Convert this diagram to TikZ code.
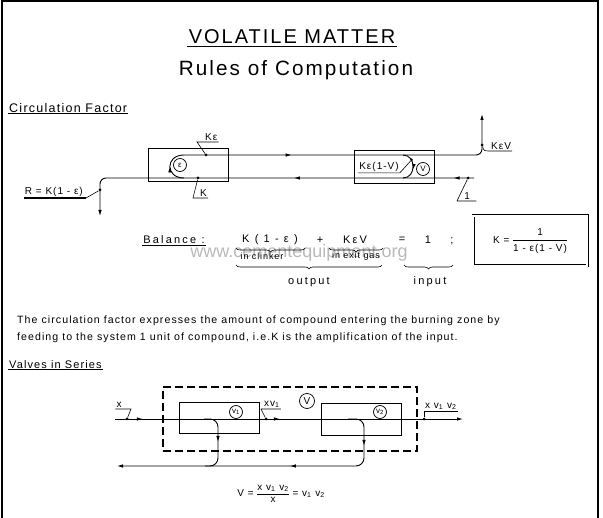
\documentclass[tikz,border=0pt]{standalone}
\usepackage{fontspec}
\setmainfont[LetterSpace=10]{Liberation Sans}
\usetikzlibrary{arrows.meta,decorations.markings,decorations.pathreplacing,positioning}

\tikzset{
  flow/.style={line width=0.9pt},
  tip/.style={-{Latex[length=6pt,width=3.5pt]}},
  midarrow/.style={postaction={decorate,decoration={markings,
      mark=at position #1 with {\arrow{Latex[length=6pt,width=3.5pt]}}}}},
  unit/.style={draw, line width=0.9pt, minimum width=80pt, minimum height=33pt, inner sep=0pt},
  lbl/.style={font=\fontsize{10}{12}\selectfont, inner sep=1pt},
  wide/.style={font=\fontsize{11}{13}\selectfont\addfontfeatures{LetterSpace=20}, inner sep=1pt},
  dot/.style={circle, fill, inner sep=0pt, minimum size=3pt},
  ring/.style={draw, circle, line width=0.7pt, inner sep=0.5pt, minimum size=13pt, font=\fontsize{8}{9}\selectfont},
  leader/.style={line width=0.6pt},
  brc/.style={decorate, decoration={brace, mirror, amplitude=4pt}, line width=0.6pt},
}

\begin{document}
\begin{tikzpicture}[x=1pt, y=-1pt]
\useasboundingbox (0,0) rectangle (603,518);
% frame
\draw[line width=1.5pt] (2,518) -- (2,1) -- (598,1) -- (598,518);

% headings
\node[font=\fontsize{20}{24}\selectfont, inner sep=2pt] (title) at (292,37) {VOLATILE MATTER};
\draw[line width=1pt] (title.south west) -- (title.south east);
\node[font=\fontsize{20.7}{24}\selectfont] (sub) at (296,70) {Rules of Computation};
\node[font=\fontsize{12.5}{14}\selectfont, anchor=south west, inner sep=1pt] (circ) at (8,114) {Circulation Factor};
\draw[line width=1pt] (circ.south west) -- (circ.south east);

% circulation loop
\node[unit] (boxE) at (188,165) {};
\node[unit] (boxV) at (394,167) {};
\node[ring] (epsE) at (180,165) {ε};
\node[ring] (ringV) at (423,169) {V};

\coordinate (uTop) at (184,155);
\coordinate (uBot) at (184,178);
\coordinate (kevBend) at (482,155);
\coordinate (kevTop) at (482,114);
\coordinate (feedIn) at (474,178);
\coordinate (rBend) at (100,178);
\coordinate (rOut) at (100,216);
\coordinate (kvTop) at (403,155);
\coordinate (kvBot) at (403,178);

\draw[flow, midarrow=0.5] (uBot) to[out=180, in=180, looseness=2.1] (uTop);
\draw[flow, rounded corners=6pt, midarrow=0.32, tip] (uTop) -- (kevBend) -- (kevTop);
\draw[flow, rounded corners=6pt, midarrow=0.05, midarrow=0.44, tip] (feedIn) -- (rBend) -- (rOut);
\draw[flow, midarrow=0.6] (kvTop) to[out=0, in=0, looseness=1.5] coordinate[pos=0.3] (kvDot) (kvBot);

% labels of the loop
\node[lbl] (kvLbl) at (379,167) {Kε(1-V)};
\node[dot] (kvDotN) at (kvDot) {};
\draw[leader] (kvLbl.south west) -- (kvLbl.south east) -- (kvDotN);

\node[dot] (keDot) at (206,155) {};
\coordinate (keBend) at (197,142);
\node[lbl, anchor=south west] (keLbl) at (204,142) {Kε};
\draw[leader] (keDot) -- (keBend) -- (keLbl.south east);

\node[dot] (kDot) at (198,178) {};
\coordinate (kBend) at (193,198);
\node[lbl, anchor=south west] (kLbl) at (199,198) {K};
\draw[leader] (kDot) -- (kBend) -- (kLbl.south east);

\node[dot] (kevDot) at (482,145) {};
\node[lbl, anchor=south west] (kevLbl) at (490,151) {KεV};
\draw[leader] (kevDot) .. controls (484,151) .. (kevLbl.south west) -- (kevLbl.south east);

\node[dot] (oneDot) at (468,178) {};
\coordinate (oneBend) at (457,201);
\node[lbl, anchor=south west, minimum width=18pt] (oneLbl) at (458,201) {1};
\draw[leader] (oneDot) -- (oneBend) -- (oneLbl.south east);

\node[dot] (rDot) at (100,190) {};
\coordinate (rBend2) at (86,198);
\node[lbl, anchor=south east] (rLbl) at (84,198) {R = K(1 - ε)};
\draw[leader] (rDot) -- (rBend2);
\draw[line width=1.8pt] (rBend2) -- (rLbl.south west);

% balance
\node[font=\fontsize{18}{20}\selectfont\addfontfeatures{LetterSpace=0}, text=gray!55] (wmark) at (299,253) {www.cementequipment.org};
\node[wide] (bal) at (174,240) {Balance :};
\draw[leader] (bal.south west) -- (bal.south east);
\node[wide] (k1e) at (270,240) {K ( 1 - ε )};
\node[wide] (plus) at (320,240) {+};
\node[wide] (kev2) at (355,240) {KεV};
\node[wide] (eq1) at (402,240) {=};
\node[wide] (one) at (428,240) {1};
\node[wide] (semi) at (452,241) {;};
\draw[brc] (236,248) -- (305,248);
\draw[brc] (329,248) -- (383,248);
\node[lbl, font=\fontsize{9}{10}\selectfont] (clinker) at (262,256) {in clinker};
\node[lbl, font=\fontsize{9}{10}\selectfont] (exitgas) at (356,256) {in exit gas};
\draw[brc] (236,265) -- (382,265);
\draw[brc] (404,265) -- (453,265);
\node[wide] (output) at (309,282) {output};
\node[wide] (input) at (430,282) {input};
\node[draw, double, double distance=1.6pt, line width=0.7pt, minimum width=114pt, minimum height=50pt, font=\fontsize{10}{12}\selectfont] (kBox) at (530,241)
  {K = \begin{tabular}{@{}c@{}}1\\[1pt]\hline\rule{0pt}{11pt}1 - ε(1 - V)\end{tabular}};

% text
\node[anchor=north west, align=left, font=\fontsize{10.6}{17}\selectfont, inner sep=0pt] (para) at (17,316)
  {The circulation factor expresses the amount of compound entering the burning zone by\\
   feeding to the system 1 unit of compound, i.e.K is the amplification of the input.};
\node[font=\fontsize{11}{13}\selectfont, anchor=south west, inner sep=1pt] (valves) at (8,370) {Valves in Series};
\draw[line width=1pt] (valves.south west) -- (valves.south east);

% valves in series
\node[draw, line width=1.1pt, dash pattern=on 8pt off 4pt, minimum width=254pt, minimum height=64pt] (sys) at (290,419) {};
\node[unit, minimum height=31pt] (v1) at (219,417.5) {};
\node[unit, minimum height=32pt] (v2) at (361,419) {};
\node[ring] (rv1) at (236,412) {v\textsubscript{1}};
\node[ring] (rv2) at (380,412) {v\textsubscript{2}};
\node[ring, minimum size=15pt, font=\fontsize{10}{12}\selectfont] (rv) at (307,401) {V};

\coordinate (xIn) at (115,419);
\coordinate (xOut) at (463,419);
\coordinate (b1a) at (204,419);
\coordinate (b1b) at (218,466);
\coordinate (b1c) at (205,466);
\coordinate (b2a) at (348,419);
\coordinate (b2b) at (364,466);
\coordinate (retOut) at (117,466);
\draw[flow, midarrow=0.08, midarrow=0.474, tip] (xIn) -- (xOut);
\draw[flow, rounded corners=8pt, midarrow=0.5] (b1a) -| (b1b) -- (b1c);
\draw[flow, rounded corners=8pt, midarrow=0.13, midarrow=0.43, tip] (b2a) -| (b2b) -- (retOut);

\node[dot] (xDot) at (127,419) {};
\node[lbl, anchor=south] (xLbl) at (119,409) {x};
\coordinate (xBend) at (131,409);
\draw[leader] (xLbl.south west) -- (xBend) -- (xDot);

\node[dot] (xv1Dot) at (266,419) {};
\coordinate (xv1Bend) at (261,409);
\node[lbl, anchor=south west] (xv1Lbl) at (263,409) {xv\textsubscript{1}};
\draw[leader] (xv1Dot) -- (xv1Bend) -- (xv1Lbl.south east);

\node[dot] (outDot) at (424,419) {};
\node[lbl, anchor=south west] (outLbl) at (424,411) {x v\textsubscript{1} v\textsubscript{2}};
\draw[leader] (outDot) -- (outLbl.south west) -- (outLbl.south east);

\node[lbl] (vform) at (281,494)
  {V = \begin{tabular}{@{}c@{}}x v\textsubscript{1} v\textsubscript{2}\\\hline x\end{tabular} = v\textsubscript{1} v\textsubscript{2}};
\end{tikzpicture}
\end{document}
